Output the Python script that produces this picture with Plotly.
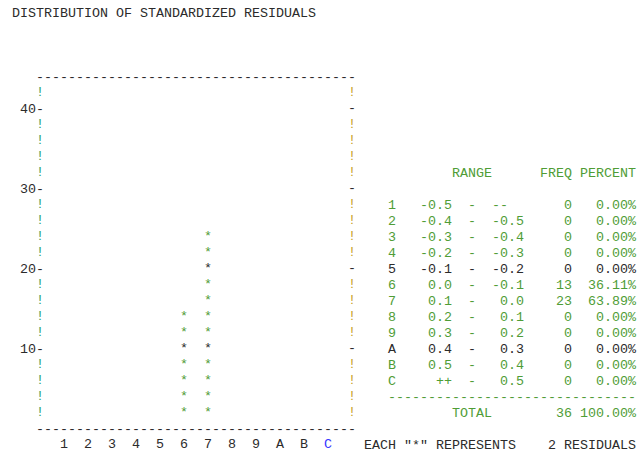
import math
import plotly.graph_objects as go

# ---- data -----------------------------------------------------------------
TITLE = "DISTRIBUTION OF STANDARDIZED RESIDUALS"
bin_labels = ["1", "2", "3", "4", "5", "6", "7", "8", "9", "A", "B", "C"]
range_low = ["-0.5", "-0.4", "-0.3", "-0.2", "-0.1", "0.0",
             "0.1", "0.2", "0.3", "0.4", "0.5", "++"]
range_high = ["--", "-0.5", "-0.4", "-0.3", "-0.2", "-0.1",
              "0.0", "0.1", "0.2", "0.3", "0.4", "0.5"]
freq = [0, 0, 0, 0, 0, 13, 23, 0, 0, 0, 0, 0]
per_star = 2                  # residuals represented by one "*"
y_tick_values = [10, 20, 30, 40]
y_top = 44                    # level of the top border line

# ---- style ----------------------------------------------------------------
GREEN = "#4f9d36"
DARK = "#2b2b2b"
BLUE = "#3535ff"
TEAL = "#2fa36b"
GOLD = "#c9a227"
FONT = "Liberation Mono, Courier New, monospace"
FS = 13.33
W, H = 638, 454

# Character grid: one bin = 3 character columns, one text line = 2 residuals.
def col_left(c):
    return (c - 4.5) / 3.0


def col_right(c):
    return (c - 3.5) / 3.0


def col_center(c):
    return (c - 4) / 3.0


def line_y(n):
    return 52 - 2 * n


annotations = []


def put(text, x, y, color, anchor="left"):
    annotations.append(dict(
        x=x, y=y, xref="x", yref="y", text=text, showarrow=False,
        xanchor=anchor, yanchor="middle", borderpad=0, borderwidth=0,
        font=dict(family=FONT, size=FS, color=color),
    ))


fig = go.Figure()

# title
put(TITLE, col_left(1), line_y(0), DARK)

# histogram frame
n_bins = len(bin_labels)
right_edge = n_bins + 1
put("-" * (3 * right_edge + 1), col_left(4), y_top, DARK)
put("-" * (3 * right_edge + 1), col_left(4), 0, DARK)

levels = list(range(2, y_top, 2))
left_x, left_y, right_x, right_y = [], [], [], []
tick_x, tick_y = [], []
for lv in levels:
    if lv in y_tick_values:
        tick_x.append(right_edge)
        tick_y.append(lv)
        put(f"{lv}-", col_right(4), lv, DARK, anchor="right")
    else:
        left_x.append(0)
        left_y.append(lv)
        right_x.append(right_edge)
        right_y.append(lv)

text_font = dict(family=FONT, size=FS)
fig.add_trace(go.Scatter(x=left_x, y=left_y, mode="text", text=["!"] * len(left_x),
                         textposition="middle center",
                         textfont=dict(**text_font, color=TEAL), hoverinfo="skip"))
fig.add_trace(go.Scatter(x=right_x, y=right_y, mode="text", text=["!"] * len(right_x),
                         textposition="middle center",
                         textfont=dict(**text_font, color=GOLD), hoverinfo="skip"))
fig.add_trace(go.Scatter(x=tick_x, y=tick_y, mode="text", text=["-"] * len(tick_x),
                         textposition="middle center",
                         textfont=dict(**text_font, color=DARK), hoverinfo="skip"))

# stars: one per `per_star` residuals, rounded up
star_x, star_y, star_c = [], [], []
for i, f in enumerate(freq):
    for k in range(1, math.ceil(f / per_star) + 1):
        star_x.append(i + 1)
        star_y.append(k * per_star)
        star_c.append(DARK if (k * per_star) % 10 == 0 else GREEN)
fig.add_trace(go.Scatter(x=star_x, y=star_y, mode="text", text=["*"] * len(star_x),
                         textposition="middle center",
                         textfont=dict(**text_font, color=star_c), hoverinfo="skip"))

# bin labels under the frame
lab_colors = [DARK] * (n_bins - 1) + [BLUE]
fig.add_trace(go.Scatter(x=list(range(1, n_bins + 1)), y=[-2] * n_bins, mode="text",
                         text=bin_labels, textposition="middle center",
                         textfont=dict(**text_font, color=lab_colors), hoverinfo="skip"))

# frequency table
total = sum(freq)
put("RANGE", col_left(56), line_y(10), GREEN)
put("FREQ", col_left(67), line_y(10), GREEN)
put("PERCENT", col_left(72), line_y(10), GREEN)
for i, lab in enumerate(bin_labels):
    y = line_y(12 + i)
    c = DARK if y % 10 == 0 else GREEN
    put(lab, col_left(48), y, c)
    put(range_low[i], col_right(55), y, c, anchor="right")
    put("-", col_left(58), y, c)
    if range_high[i] == "--":
        put(range_high[i], col_left(61), y, c)
    else:
        put(range_high[i], col_right(64), y, c, anchor="right")
    put(str(freq[i]), col_right(70), y, c, anchor="right")
    put(f"{100 * freq[i] / total:.2f}%", col_right(78), y, c, anchor="right")
put("-" * 31, col_left(48), line_y(24), GREEN)
put("TOTAL", col_left(56), line_y(25), GREEN)
put(str(total), col_right(70), line_y(25), GREEN, anchor="right")
put(f"{100 * total / total:.2f}%", col_right(78), line_y(25), GREEN, anchor="right")

put('EACH "*" REPRESENTS', col_left(45), line_y(27), DARK)
put(f"{per_star} RESIDUALS", col_left(68), line_y(27), DARK)

# axis ranges: 24 px per bin, 8 px per residual level
x_min = -40 / 24
x_max = (W - 40) / 24
y_max = 429 / 8
y_min = y_max - H / 8

fig.update_layout(
    width=W, height=H,
    margin=dict(l=0, r=0, t=0, b=0),
    paper_bgcolor="white", plot_bgcolor="white",
    showlegend=False,
    xaxis=dict(range=[x_min, x_max], visible=False, fixedrange=True),
    yaxis=dict(range=[y_min, y_max], visible=False, fixedrange=True),
    annotations=annotations,
)

fig.write_html("out.html")
